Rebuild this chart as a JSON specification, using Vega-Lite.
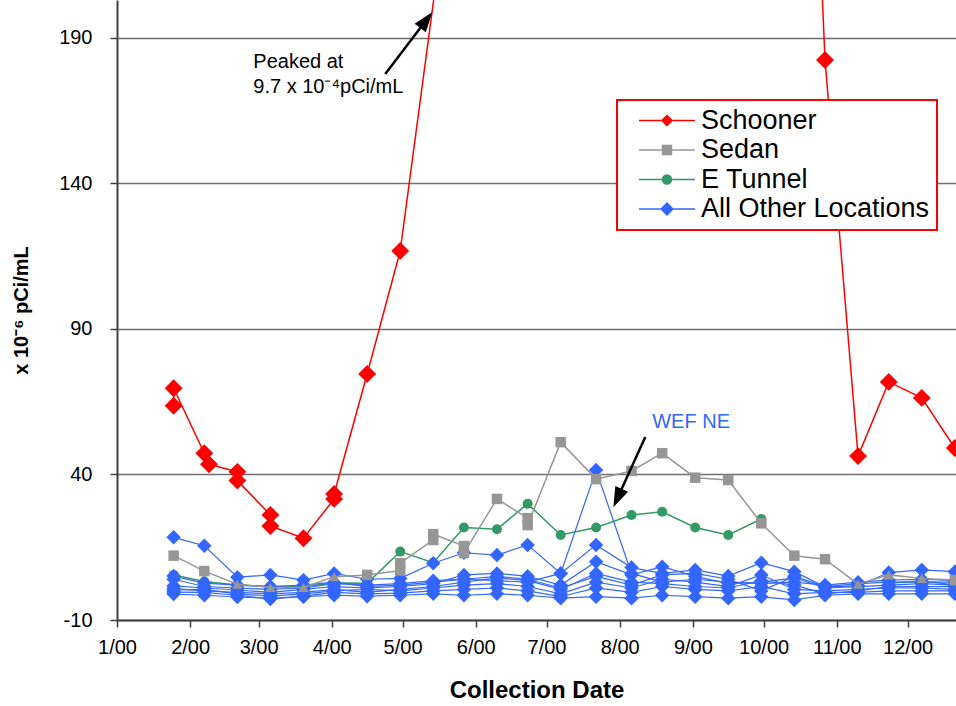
{
  "$schema": "https://vega.github.io/schema/vega-lite/v6.json",
  "width": 839,
  "height": 620,
  "autosize": "none",
  "padding": {"left": 117, "top": 0, "right": 0, "bottom": 86},
  "background": "white",
  "config": {
    "view": {"stroke": null},
    "font": "Liberation Sans"
  },
  "datasets": {
    "main": [
      {"series":"Schooner","loc":"Schooner","date":"2000-01-25","value":63.6},
      {"series":"Schooner","loc":"Schooner","date":"2000-01-25","value":69.6},
      {"series":"Schooner","loc":"Schooner","date":"2000-02-07","value":47.3},
      {"series":"Schooner","loc":"Schooner","date":"2000-02-09","value":43.5},
      {"series":"Schooner","loc":"Schooner","date":"2000-02-21","value":40.9},
      {"series":"Schooner","loc":"Schooner","date":"2000-02-21","value":37.9},
      {"series":"Schooner","loc":"Schooner","date":"2000-03-06","value":26.1},
      {"series":"Schooner","loc":"Schooner","date":"2000-03-06","value":22.3},
      {"series":"Schooner","loc":"Schooner","date":"2000-03-20","value":18.1},
      {"series":"Schooner","loc":"Schooner","date":"2000-04-02","value":31.6},
      {"series":"Schooner","loc":"Schooner","date":"2000-04-02","value":33.3},
      {"series":"Schooner","loc":"Schooner","date":"2000-04-16","value":74.5},
      {"series":"Schooner","loc":"Schooner","date":"2000-04-30","value":116.8},
      {"series":"Schooner","loc":"Schooner","date":"2000-05-27","value":281},
      {"series":"Schooner","loc":"Schooner","date":"2000-06-10","value":970},
      {"series":"Schooner","loc":"Schooner","date":"2000-06-23","value":650},
      {"series":"Schooner","loc":"Schooner","date":"2000-07-07","value":540},
      {"series":"Schooner","loc":"Schooner","date":"2000-07-22","value":480},
      {"series":"Schooner","loc":"Schooner","date":"2000-08-06","value":600},
      {"series":"Schooner","loc":"Schooner","date":"2000-08-19","value":520},
      {"series":"Schooner","loc":"Schooner","date":"2000-09-02","value":450},
      {"series":"Schooner","loc":"Schooner","date":"2000-09-16","value":500},
      {"series":"Schooner","loc":"Schooner","date":"2000-09-30","value":470},
      {"series":"Schooner","loc":"Schooner","date":"2000-10-14","value":426},
      {"series":"Schooner","loc":"Schooner","date":"2000-10-27","value":182.4},
      {"series":"Schooner","loc":"Schooner","date":"2000-11-10","value":46.3},
      {"series":"Schooner","loc":"Schooner","date":"2000-11-23","value":71.8},
      {"series":"Schooner","loc":"Schooner","date":"2000-12-07","value":66.3},
      {"series":"Schooner","loc":"Schooner","date":"2000-12-21","value":49.1},

      {"series":"Sedan","loc":"Sedan","date":"2000-01-25","value":12.1,"nd":false},
      {"series":"Sedan","loc":"Sedan","date":"2000-02-07","value":6.8,"nd":false},
      {"series":"Sedan","loc":"Sedan","date":"2000-02-21","value":2.3,"nd":true},
      {"series":"Sedan","loc":"Sedan","date":"2000-03-06","value":1.2,"nd":true},
      {"series":"Sedan","loc":"Sedan","date":"2000-03-20","value":1.2,"nd":true},
      {"series":"Sedan","loc":"Sedan","date":"2000-04-02","value":4.9,"nd":true},
      {"series":"Sedan","loc":"Sedan","date":"2000-04-16","value":5.5,"nd":false},
      {"series":"Sedan","loc":"Sedan","date":"2000-04-30","value":7.0,"nd":false},
      {"series":"Sedan","loc":"Sedan","date":"2000-04-30","value":9.5,"nd":false},
      {"series":"Sedan","loc":"Sedan","date":"2000-05-14","value":17.5,"nd":false},
      {"series":"Sedan","loc":"Sedan","date":"2000-05-14","value":19.5,"nd":false},
      {"series":"Sedan","loc":"Sedan","date":"2000-05-27","value":15.4,"nd":false},
      {"series":"Sedan","loc":"Sedan","date":"2000-05-27","value":13.0,"nd":false},
      {"series":"Sedan","loc":"Sedan","date":"2000-06-10","value":31.6,"nd":false},
      {"series":"Sedan","loc":"Sedan","date":"2000-06-23","value":25.0,"nd":false},
      {"series":"Sedan","loc":"Sedan","date":"2000-06-23","value":22.6,"nd":false},
      {"series":"Sedan","loc":"Sedan","date":"2000-07-07","value":51.1,"nd":false},
      {"series":"Sedan","loc":"Sedan","date":"2000-07-22","value":38.4,"nd":false},
      {"series":"Sedan","loc":"Sedan","date":"2000-08-06","value":41.2,"nd":false},
      {"series":"Sedan","loc":"Sedan","date":"2000-08-19","value":47.3,"nd":false},
      {"series":"Sedan","loc":"Sedan","date":"2000-09-02","value":38.9,"nd":false},
      {"series":"Sedan","loc":"Sedan","date":"2000-09-16","value":38.1,"nd":false},
      {"series":"Sedan","loc":"Sedan","date":"2000-09-30","value":23.2,"nd":false},
      {"series":"Sedan","loc":"Sedan","date":"2000-10-14","value":12.1,"nd":false},
      {"series":"Sedan","loc":"Sedan","date":"2000-10-27","value":10.9,"nd":false},
      {"series":"Sedan","loc":"Sedan","date":"2000-11-10","value":2.3,"nd":true},
      {"series":"Sedan","loc":"Sedan","date":"2000-11-23","value":5.5,"nd":true},
      {"series":"Sedan","loc":"Sedan","date":"2000-12-07","value":4.3,"nd":true},
      {"series":"Sedan","loc":"Sedan","date":"2000-12-21","value":3.7,"nd":false},

      {"series":"E Tunnel","loc":"E Tunnel","date":"2000-01-25","value":5.5},
      {"series":"E Tunnel","loc":"E Tunnel","date":"2000-02-07","value":3.2},
      {"series":"E Tunnel","loc":"E Tunnel","date":"2000-02-21","value":2.0},
      {"series":"E Tunnel","loc":"E Tunnel","date":"2000-03-06","value":1.5},
      {"series":"E Tunnel","loc":"E Tunnel","date":"2000-03-20","value":1.5},
      {"series":"E Tunnel","loc":"E Tunnel","date":"2000-04-02","value":2.7},
      {"series":"E Tunnel","loc":"E Tunnel","date":"2000-04-16","value":2.6},
      {"series":"E Tunnel","loc":"E Tunnel","date":"2000-04-30","value":13.5},
      {"series":"E Tunnel","loc":"E Tunnel","date":"2000-05-14","value":9.7},
      {"series":"E Tunnel","loc":"E Tunnel","date":"2000-05-27","value":21.8},
      {"series":"E Tunnel","loc":"E Tunnel","date":"2000-06-10","value":21.2},
      {"series":"E Tunnel","loc":"E Tunnel","date":"2000-06-23","value":29.9},
      {"series":"E Tunnel","loc":"E Tunnel","date":"2000-07-07","value":19.2},
      {"series":"E Tunnel","loc":"E Tunnel","date":"2000-07-22","value":21.8},
      {"series":"E Tunnel","loc":"E Tunnel","date":"2000-08-06","value":26.1},
      {"series":"E Tunnel","loc":"E Tunnel","date":"2000-08-19","value":27.2},
      {"series":"E Tunnel","loc":"E Tunnel","date":"2000-09-02","value":21.8},
      {"series":"E Tunnel","loc":"E Tunnel","date":"2000-09-16","value":19.2},
      {"series":"E Tunnel","loc":"E Tunnel","date":"2000-09-30","value":24.7},
      {"series":"E Tunnel","loc":"E Tunnel","date":"2000-10-14","value":null},
      {"series":"E Tunnel","loc":"E Tunnel","date":"2000-10-27","value":null},
      {"series":"E Tunnel","loc":"E Tunnel","date":"2000-11-10","value":null},
      {"series":"E Tunnel","loc":"E Tunnel","date":"2000-11-23","value":2.6},
      {"series":"E Tunnel","loc":"E Tunnel","date":"2000-12-07","value":3.5},
      {"series":"E Tunnel","loc":"E Tunnel","date":"2000-12-21","value":2.0},

      {"series":"All Other Locations","loc":"WEF NE","date":"2000-01-25","value":5.1},
      {"series":"All Other Locations","loc":"WEF NE","date":"2000-02-07","value":2.7},
      {"series":"All Other Locations","loc":"WEF NE","date":"2000-02-21","value":2.0},
      {"series":"All Other Locations","loc":"WEF NE","date":"2000-03-06","value":1.5},
      {"series":"All Other Locations","loc":"WEF NE","date":"2000-03-20","value":2.0},
      {"series":"All Other Locations","loc":"WEF NE","date":"2000-04-02","value":3.0},
      {"series":"All Other Locations","loc":"WEF NE","date":"2000-04-16","value":1.5},
      {"series":"All Other Locations","loc":"WEF NE","date":"2000-04-30","value":2.0},
      {"series":"All Other Locations","loc":"WEF NE","date":"2000-05-14","value":3.0},
      {"series":"All Other Locations","loc":"WEF NE","date":"2000-05-27","value":4.0},
      {"series":"All Other Locations","loc":"WEF NE","date":"2000-06-10","value":3.5},
      {"series":"All Other Locations","loc":"WEF NE","date":"2000-06-23","value":3.0},
      {"series":"All Other Locations","loc":"WEF NE","date":"2000-07-07","value":6.0},
      {"series":"All Other Locations","loc":"WEF NE","date":"2000-07-22","value":41.5},
      {"series":"All Other Locations","loc":"WEF NE","date":"2000-08-06","value":6.0},
      {"series":"All Other Locations","loc":"WEF NE","date":"2000-08-19","value":3.0},
      {"series":"All Other Locations","loc":"WEF NE","date":"2000-09-02","value":4.0},
      {"series":"All Other Locations","loc":"WEF NE","date":"2000-09-16","value":3.0},
      {"series":"All Other Locations","loc":"WEF NE","date":"2000-09-30","value":2.5},
      {"series":"All Other Locations","loc":"WEF NE","date":"2000-10-14","value":3.0},
      {"series":"All Other Locations","loc":"WEF NE","date":"2000-10-27","value":2.0},
      {"series":"All Other Locations","loc":"WEF NE","date":"2000-11-10","value":3.0},
      {"series":"All Other Locations","loc":"WEF NE","date":"2000-11-23","value":3.7},
      {"series":"All Other Locations","loc":"WEF NE","date":"2000-12-07","value":4.0},
      {"series":"All Other Locations","loc":"WEF NE","date":"2000-12-21","value":3.5},

      {"series":"All Other Locations","loc":"L1","date":"2000-01-25","value":18.4},
      {"series":"All Other Locations","loc":"L1","date":"2000-02-07","value":15.5},
      {"series":"All Other Locations","loc":"L1","date":"2000-02-21","value":4.7},
      {"series":"All Other Locations","loc":"L1","date":"2000-03-06","value":5.5},
      {"series":"All Other Locations","loc":"L1","date":"2000-03-20","value":3.7},
      {"series":"All Other Locations","loc":"L1","date":"2000-04-02","value":6.0},
      {"series":"All Other Locations","loc":"L1","date":"2000-04-16","value":4.0},
      {"series":"All Other Locations","loc":"L1","date":"2000-04-30","value":4.3},
      {"series":"All Other Locations","loc":"L1","date":"2000-05-14","value":9.5},
      {"series":"All Other Locations","loc":"L1","date":"2000-05-27","value":13.1},
      {"series":"All Other Locations","loc":"L1","date":"2000-06-10","value":12.3},
      {"series":"All Other Locations","loc":"L1","date":"2000-06-23","value":15.8},
      {"series":"All Other Locations","loc":"L1","date":"2000-07-07","value":6.0},
      {"series":"All Other Locations","loc":"L1","date":"2000-07-22","value":15.8},
      {"series":"All Other Locations","loc":"L1","date":"2000-08-06","value":8.0},
      {"series":"All Other Locations","loc":"L1","date":"2000-08-19","value":6.0},
      {"series":"All Other Locations","loc":"L1","date":"2000-09-02","value":7.2},
      {"series":"All Other Locations","loc":"L1","date":"2000-09-16","value":5.1},
      {"series":"All Other Locations","loc":"L1","date":"2000-09-30","value":9.7},
      {"series":"All Other Locations","loc":"L1","date":"2000-10-14","value":6.6},
      {"series":"All Other Locations","loc":"L1","date":"2000-10-27","value":1.4},
      {"series":"All Other Locations","loc":"L1","date":"2000-11-10","value":1.7},
      {"series":"All Other Locations","loc":"L1","date":"2000-11-23","value":6.3},
      {"series":"All Other Locations","loc":"L1","date":"2000-12-07","value":7.2},
      {"series":"All Other Locations","loc":"L1","date":"2000-12-21","value":6.6},

      {"series":"All Other Locations","loc":"L3","date":"2000-01-25","value":1.7},
      {"series":"All Other Locations","loc":"L3","date":"2000-02-07","value":1.0},
      {"series":"All Other Locations","loc":"L3","date":"2000-02-21","value":0.3},
      {"series":"All Other Locations","loc":"L3","date":"2000-03-06","value":-0.5},
      {"series":"All Other Locations","loc":"L3","date":"2000-03-20","value":0.5},
      {"series":"All Other Locations","loc":"L3","date":"2000-04-02","value":1.5},
      {"series":"All Other Locations","loc":"L3","date":"2000-04-16","value":1.0},
      {"series":"All Other Locations","loc":"L3","date":"2000-04-30","value":1.5},
      {"series":"All Other Locations","loc":"L3","date":"2000-05-14","value":2.5},
      {"series":"All Other Locations","loc":"L3","date":"2000-05-27","value":5.5},
      {"series":"All Other Locations","loc":"L3","date":"2000-06-10","value":6.0},
      {"series":"All Other Locations","loc":"L3","date":"2000-06-23","value":5.0},
      {"series":"All Other Locations","loc":"L3","date":"2000-07-07","value":2.0},
      {"series":"All Other Locations","loc":"L3","date":"2000-07-22","value":10.0},
      {"series":"All Other Locations","loc":"L3","date":"2000-08-06","value":5.5},
      {"series":"All Other Locations","loc":"L3","date":"2000-08-19","value":8.3},
      {"series":"All Other Locations","loc":"L3","date":"2000-09-02","value":5.0},
      {"series":"All Other Locations","loc":"L3","date":"2000-09-16","value":2.5},
      {"series":"All Other Locations","loc":"L3","date":"2000-09-30","value":3.0},
      {"series":"All Other Locations","loc":"L3","date":"2000-10-14","value":4.5},
      {"series":"All Other Locations","loc":"L3","date":"2000-10-27","value":1.0},
      {"series":"All Other Locations","loc":"L3","date":"2000-11-10","value":1.5},
      {"series":"All Other Locations","loc":"L3","date":"2000-11-23","value":2.0},
      {"series":"All Other Locations","loc":"L3","date":"2000-12-07","value":2.5},
      {"series":"All Other Locations","loc":"L3","date":"2000-12-21","value":2.0},

      {"series":"All Other Locations","loc":"L4","date":"2000-01-25","value":0.3},
      {"series":"All Other Locations","loc":"L4","date":"2000-02-07","value":0.5},
      {"series":"All Other Locations","loc":"L4","date":"2000-02-21","value":-1.0},
      {"series":"All Other Locations","loc":"L4","date":"2000-03-06","value":-1.8},
      {"series":"All Other Locations","loc":"L4","date":"2000-03-20","value":-1.0},
      {"series":"All Other Locations","loc":"L4","date":"2000-04-02","value":0.0},
      {"series":"All Other Locations","loc":"L4","date":"2000-04-16","value":0.5},
      {"series":"All Other Locations","loc":"L4","date":"2000-04-30","value":0.0},
      {"series":"All Other Locations","loc":"L4","date":"2000-05-14","value":1.0},
      {"series":"All Other Locations","loc":"L4","date":"2000-05-27","value":2.0},
      {"series":"All Other Locations","loc":"L4","date":"2000-06-10","value":2.5},
      {"series":"All Other Locations","loc":"L4","date":"2000-06-23","value":1.5},
      {"series":"All Other Locations","loc":"L4","date":"2000-07-07","value":-1.0},
      {"series":"All Other Locations","loc":"L4","date":"2000-07-22","value":3.0},
      {"series":"All Other Locations","loc":"L4","date":"2000-08-06","value":1.0},
      {"series":"All Other Locations","loc":"L4","date":"2000-08-19","value":4.0},
      {"series":"All Other Locations","loc":"L4","date":"2000-09-02","value":3.0},
      {"series":"All Other Locations","loc":"L4","date":"2000-09-16","value":1.5},
      {"series":"All Other Locations","loc":"L4","date":"2000-09-30","value":5.5},
      {"series":"All Other Locations","loc":"L4","date":"2000-10-14","value":0.5},
      {"series":"All Other Locations","loc":"L4","date":"2000-10-27","value":0.0},
      {"series":"All Other Locations","loc":"L4","date":"2000-11-10","value":0.5},
      {"series":"All Other Locations","loc":"L4","date":"2000-11-23","value":1.0},
      {"series":"All Other Locations","loc":"L4","date":"2000-12-07","value":1.0},
      {"series":"All Other Locations","loc":"L4","date":"2000-12-21","value":0.5},

      {"series":"All Other Locations","loc":"L5","date":"2000-01-25","value":-0.4},
      {"series":"All Other Locations","loc":"L5","date":"2000-02-07","value":-0.5},
      {"series":"All Other Locations","loc":"L5","date":"2000-02-21","value":-1.5},
      {"series":"All Other Locations","loc":"L5","date":"2000-03-06","value":-2.8},
      {"series":"All Other Locations","loc":"L5","date":"2000-03-20","value":-1.8},
      {"series":"All Other Locations","loc":"L5","date":"2000-04-02","value":-0.5},
      {"series":"All Other Locations","loc":"L5","date":"2000-04-16","value":-1.0},
      {"series":"All Other Locations","loc":"L5","date":"2000-04-30","value":-0.8},
      {"series":"All Other Locations","loc":"L5","date":"2000-05-14","value":0.0},
      {"series":"All Other Locations","loc":"L5","date":"2000-05-27","value":0.5},
      {"series":"All Other Locations","loc":"L5","date":"2000-06-10","value":1.0},
      {"series":"All Other Locations","loc":"L5","date":"2000-06-23","value":0.0},
      {"series":"All Other Locations","loc":"L5","date":"2000-07-07","value":-2.0},
      {"series":"All Other Locations","loc":"L5","date":"2000-07-22","value":1.0},
      {"series":"All Other Locations","loc":"L5","date":"2000-08-06","value":-0.5},
      {"series":"All Other Locations","loc":"L5","date":"2000-08-19","value":1.5},
      {"series":"All Other Locations","loc":"L5","date":"2000-09-02","value":0.5},
      {"series":"All Other Locations","loc":"L5","date":"2000-09-16","value":0.0},
      {"series":"All Other Locations","loc":"L5","date":"2000-09-30","value":1.5},
      {"series":"All Other Locations","loc":"L5","date":"2000-10-14","value":-1.0},
      {"series":"All Other Locations","loc":"L5","date":"2000-10-27","value":-0.5},
      {"series":"All Other Locations","loc":"L5","date":"2000-11-10","value":-0.5},
      {"series":"All Other Locations","loc":"L5","date":"2000-11-23","value":0.0},
      {"series":"All Other Locations","loc":"L5","date":"2000-12-07","value":0.0},
      {"series":"All Other Locations","loc":"L5","date":"2000-12-21","value":0.0},

      {"series":"All Other Locations","loc":"L6","date":"2000-01-25","value":-1.1},
      {"series":"All Other Locations","loc":"L6","date":"2000-02-07","value":-1.5},
      {"series":"All Other Locations","loc":"L6","date":"2000-02-21","value":-2.1},
      {"series":"All Other Locations","loc":"L6","date":"2000-03-06","value":-2.5},
      {"series":"All Other Locations","loc":"L6","date":"2000-03-20","value":-2.0},
      {"series":"All Other Locations","loc":"L6","date":"2000-04-02","value":-1.5},
      {"series":"All Other Locations","loc":"L6","date":"2000-04-16","value":-1.8},
      {"series":"All Other Locations","loc":"L6","date":"2000-04-30","value":-1.5},
      {"series":"All Other Locations","loc":"L6","date":"2000-05-14","value":-1.0},
      {"series":"All Other Locations","loc":"L6","date":"2000-05-27","value":-1.5},
      {"series":"All Other Locations","loc":"L6","date":"2000-06-10","value":-1.0},
      {"series":"All Other Locations","loc":"L6","date":"2000-06-23","value":-1.5},
      {"series":"All Other Locations","loc":"L6","date":"2000-07-07","value":-2.5},
      {"series":"All Other Locations","loc":"L6","date":"2000-07-22","value":-2.0},
      {"series":"All Other Locations","loc":"L6","date":"2000-08-06","value":-2.5},
      {"series":"All Other Locations","loc":"L6","date":"2000-08-19","value":-1.5},
      {"series":"All Other Locations","loc":"L6","date":"2000-09-02","value":-2.0},
      {"series":"All Other Locations","loc":"L6","date":"2000-09-16","value":-2.5},
      {"series":"All Other Locations","loc":"L6","date":"2000-09-30","value":-2.0},
      {"series":"All Other Locations","loc":"L6","date":"2000-10-14","value":-3.1},
      {"series":"All Other Locations","loc":"L6","date":"2000-10-27","value":-1.5},
      {"series":"All Other Locations","loc":"L6","date":"2000-11-10","value":-1.0},
      {"series":"All Other Locations","loc":"L6","date":"2000-11-23","value":-1.0},
      {"series":"All Other Locations","loc":"L6","date":"2000-12-07","value":-1.0},
      {"series":"All Other Locations","loc":"L6","date":"2000-12-21","value":-1.0},

      {"series":"All Other Locations","loc":"L7","date":"2000-01-25","value":0.8},
      {"series":"All Other Locations","loc":"L7","date":"2000-02-07","value":0.0},
      {"series":"All Other Locations","loc":"L7","date":"2000-02-21","value":-0.5},
      {"series":"All Other Locations","loc":"L7","date":"2000-03-06","value":-1.0},
      {"series":"All Other Locations","loc":"L7","date":"2000-03-20","value":-0.5},
      {"series":"All Other Locations","loc":"L7","date":"2000-04-02","value":0.5},
      {"series":"All Other Locations","loc":"L7","date":"2000-04-16","value":-0.5},
      {"series":"All Other Locations","loc":"L7","date":"2000-04-30","value":0.5},
      {"series":"All Other Locations","loc":"L7","date":"2000-05-14","value":1.5},
      {"series":"All Other Locations","loc":"L7","date":"2000-05-27","value":3.0},
      {"series":"All Other Locations","loc":"L7","date":"2000-06-10","value":4.5},
      {"series":"All Other Locations","loc":"L7","date":"2000-06-23","value":3.5},
      {"series":"All Other Locations","loc":"L7","date":"2000-07-07","value":0.5},
      {"series":"All Other Locations","loc":"L7","date":"2000-07-22","value":6.0},
      {"series":"All Other Locations","loc":"L7","date":"2000-08-06","value":3.0},
      {"series":"All Other Locations","loc":"L7","date":"2000-08-19","value":2.5},
      {"series":"All Other Locations","loc":"L7","date":"2000-09-02","value":1.5},
      {"series":"All Other Locations","loc":"L7","date":"2000-09-16","value":1.0},
      {"series":"All Other Locations","loc":"L7","date":"2000-09-30","value":3.5},
      {"series":"All Other Locations","loc":"L7","date":"2000-10-14","value":2.0},
      {"series":"All Other Locations","loc":"L7","date":"2000-10-27","value":-1.0},
      {"series":"All Other Locations","loc":"L7","date":"2000-11-10","value":0.0},
      {"series":"All Other Locations","loc":"L7","date":"2000-11-23","value":1.5},
      {"series":"All Other Locations","loc":"L7","date":"2000-12-07","value":1.5},
      {"series":"All Other Locations","loc":"L7","date":"2000-12-21","value":1.5},

      {"series":"All Other Locations","loc":"L8","date":"2000-01-25","value":4.0},
      {"series":"All Other Locations","loc":"L8","date":"2000-02-07","value":1.5},
      {"series":"All Other Locations","loc":"L8","date":"2000-02-21","value":1.0},
      {"series":"All Other Locations","loc":"L8","date":"2000-03-06","value":0.5},
      {"series":"All Other Locations","loc":"L8","date":"2000-03-20","value":1.0},
      {"series":"All Other Locations","loc":"L8","date":"2000-04-02","value":2.5},
      {"series":"All Other Locations","loc":"L8","date":"2000-04-16","value":2.0},
      {"series":"All Other Locations","loc":"L8","date":"2000-04-30","value":2.5},
      {"series":"All Other Locations","loc":"L8","date":"2000-05-14","value":3.5},
      {"series":"All Other Locations","loc":"L8","date":"2000-05-27","value":4.0},
      {"series":"All Other Locations","loc":"L8","date":"2000-06-10","value":5.0},
      {"series":"All Other Locations","loc":"L8","date":"2000-06-23","value":4.0},
      {"series":"All Other Locations","loc":"L8","date":"2000-07-07","value":1.0},
      {"series":"All Other Locations","loc":"L8","date":"2000-07-22","value":5.0},
      {"series":"All Other Locations","loc":"L8","date":"2000-08-06","value":2.0},
      {"series":"All Other Locations","loc":"L8","date":"2000-08-19","value":5.5},
      {"series":"All Other Locations","loc":"L8","date":"2000-09-02","value":6.0},
      {"series":"All Other Locations","loc":"L8","date":"2000-09-16","value":4.0},
      {"series":"All Other Locations","loc":"L8","date":"2000-09-30","value":0.0},
      {"series":"All Other Locations","loc":"L8","date":"2000-10-14","value":5.0},
      {"series":"All Other Locations","loc":"L8","date":"2000-10-27","value":1.5},
      {"series":"All Other Locations","loc":"L8","date":"2000-11-10","value":2.5},
      {"series":"All Other Locations","loc":"L8","date":"2000-11-23","value":3.0},
      {"series":"All Other Locations","loc":"L8","date":"2000-12-07","value":3.0},
      {"series":"All Other Locations","loc":"L8","date":"2000-12-21","value":3.0}
    ],
    "notes": [
      {"date":"2000-02-27T18:00:00Z","value":179.6,"label":"Peaked at"},
      {"date":"2000-02-27T18:00:00Z","value":171.0,"label":"9.7 x 10⁻⁴pCi/mL"}
    ],
    "wef": [
      {"date":"2000-08-14T19:00:00Z","value":55.9,"label":"WEF NE"}
    ],
    "arrows": [
      {"date":"2000-04-23T16:00:00Z","value":177.6,"date2":"2000-05-11T01:30:00Z","value2":196.1},
      {"date":"2000-08-11T20:24:00Z","value":52.9,"date2":"2000-07-31T02:00:00Z","value2":31.9}
    ],
    "head1": [{"date":"2000-05-11T01:30:00Z","value":196.1}],
    "head2": [{"date":"2000-07-31T02:00:00Z","value":31.9}]
  },
  "encoding": {
    "x": {
      "field": "date", "type": "temporal", "title": "Collection Date",
      "scale": {"type": "utc", "domain": [{"year":2000,"month":1,"date":1,"utc":true},{"year":2000,"month":12,"date":21,"hours":12,"utc":true}]},
      "axis": {
        "format": "%-m/%y",
        "values": [
          {"year":2000,"month":1,"date":1,"utc":true},{"year":2000,"month":2,"date":1,"utc":true},{"year":2000,"month":3,"date":1,"utc":true},
          {"year":2000,"month":4,"date":1,"utc":true},{"year":2000,"month":5,"date":1,"utc":true},{"year":2000,"month":6,"date":1,"utc":true},
          {"year":2000,"month":7,"date":1,"utc":true},{"year":2000,"month":8,"date":1,"utc":true},{"year":2000,"month":9,"date":1,"utc":true},
          {"year":2000,"month":10,"date":1,"utc":true},{"year":2000,"month":11,"date":1,"utc":true},{"year":2000,"month":12,"date":1,"utc":true}
        ],
        "grid": false, "domainColor": "#404040", "domainWidth": 2, "tickColor": "#404040", "tickWidth": 1.5, "tickSize": 7,
        "labelFontSize": 20, "labelColor": "#000000", "labelPadding": 10, "labelFont": "Liberation Sans", "labelOverlap": false, "labelFlush": false,
        "titleFontSize": 24, "titleFontWeight": "bold", "titleColor": "#000000", "titlePadding": 21, "titleFont": "Liberation Sans"
      }
    },
    "y": {
      "field": "value", "type": "quantitative", "title": "x 10⁻⁶ pCi/mL",
      "scale": {"domain": [-10, 203], "nice": false, "zero": false},
      "axis": {
        "values": [-10, 40, 90, 140, 190],
        "labelExpr": "datum.value < 0 ? '-' + abs(datum.value) : datum.label",
        "grid": true, "gridColor": "#707070", "gridWidth": 1.5,
        "domainColor": "#404040", "domainWidth": 2, "tickColor": "#404040", "tickWidth": 1.5, "tickSize": 7,
        "labelFontSize": 20, "labelColor": "#000000", "labelPadding": 18, "labelFont": "Liberation Sans",
        "titleFontSize": 20, "titleFontWeight": "bold", "titleColor": "#000000", "titlePadding": 27, "titleFont": "Liberation Sans"
      }
    }
  },
  "layer": [
    {
      "data": {"values": [{}]},
      "mark": {"type": "rule", "color": "#707070", "strokeWidth": 1.5},
      "encoding": {
        "y": {"datum": 200},
        "x": {"datum": {"year":2000,"month":1,"date":1,"utc":true}},
        "x2": {"datum": {"year":2000,"month":12,"date":21,"hours":12,"utc":true}}
      }
    },
    {
      "data": {"name": "main"},
      "transform": [{"filter": "datum.series === 'E Tunnel'"}],
      "mark": {"type": "line", "strokeWidth": 1.5, "invalid": "break-paths-filter-domains"},
      "encoding": {
        "color": {
          "field": "series", "type": "nominal",
          "scale": {"domain": ["Schooner", "Sedan", "E Tunnel", "All Other Locations"], "range": ["#FF0000", "#969696", "#339966", "#3366FF"]},
          "legend": {
            "orient": "none", "legendX": 500, "legendY": 100, "title": null, "direction": "vertical",
            "strokeColor": "#FF0000", "fillColor": "#FFFFFF", "padding": 7, "symbolOffset": 14,
            "labelFontSize": 27, "labelFont": "Liberation Sans", "labelColor": "#000000", "labelOffset": 5, "labelLimit": 400,
            "rowPadding": 1.5, "clipHeight": 27, "symbolSize": 3136, "symbolStrokeWidth": 1.5,
            "encode": {
              "legend": {"update": {"strokeWidth": {"value": 2}}},
              "symbols": {"update": {
                "shape": {"signal": "datum.value==='Schooner'?'M-1,0H1M0,-0.18L0.18,0L0,0.18L-0.18,0Z':datum.value==='Sedan'?'M-1,0H1M-0.16,-0.16H0.16V0.16H-0.16Z':datum.value==='E Tunnel'?'M-1,0H1M-0.16,0A0.16,0.16,0,1,0,0.16,0A0.16,0.16,0,1,0,-0.16,0Z':'M-1,0H1M0,-0.21L0.21,0L0,0.21L-0.21,0Z'"},
                "fill": {"signal": "datum.value==='Schooner'?'#FF6600':datum.value==='Sedan'?'#969696':datum.value==='E Tunnel'?'#339966':'#3366FF'"},
                "stroke": {"signal": "datum.value==='Schooner'?'#FF0000':datum.value==='Sedan'?'#AAAAAA':datum.value==='E Tunnel'?'#5FAA84':'#3366FF'"},
                "strokeWidth": {"value": 1.5},
                "opacity": {"value": 1},
                "size": {"value": 3136}
              }}
            }
          }
        }
      }
    },
    {
      "data": {"name": "main"},
      "transform": [{"filter": "datum.series === 'E Tunnel'"}],
      "mark": {"type": "point", "shape": "circle", "filled": true, "opacity": 1, "size": 100},
      "encoding": {
        "color": {"field": "series", "type": "nominal", "scale": {"domain": ["Schooner", "Sedan", "E Tunnel", "All Other Locations"], "range": ["#FF0000", "#969696", "#339966", "#3366FF"]}}
      }
    },
    {
      "data": {"name": "main"},
      "transform": [{"filter": "datum.series === 'All Other Locations'"}],
      "mark": {"type": "line", "strokeWidth": 1.2},
      "encoding": {
        "detail": {"field": "loc", "type": "nominal"},
        "color": {"field": "series", "type": "nominal", "scale": {"domain": ["Schooner", "Sedan", "E Tunnel", "All Other Locations"], "range": ["#FF0000", "#969696", "#339966", "#3366FF"]}}
      }
    },
    {
      "data": {"name": "main"},
      "transform": [{"filter": "datum.series === 'All Other Locations'"}],
      "mark": {"type": "point", "shape": "diamond", "filled": true, "opacity": 1, "size": 210},
      "encoding": {
        "color": {"field": "series", "type": "nominal", "scale": {"domain": ["Schooner", "Sedan", "E Tunnel", "All Other Locations"], "range": ["#FF0000", "#969696", "#339966", "#3366FF"]}}
      }
    },
    {
      "data": {"name": "main"},
      "transform": [{"filter": "datum.series === 'Sedan'"}],
      "mark": {"type": "line", "strokeWidth": 1.5},
      "encoding": {
        "color": {"field": "series", "type": "nominal", "scale": {"domain": ["Schooner", "Sedan", "E Tunnel", "All Other Locations"], "range": ["#FF0000", "#969696", "#339966", "#3366FF"]}}
      }
    },
    {
      "data": {"name": "main"},
      "transform": [{"filter": "datum.series === 'Sedan'"}],
      "mark": {"type": "point", "filled": true, "opacity": 1, "size": 110},
      "encoding": {
        "shape": {"field": "nd", "type": "nominal", "scale": {"domain": [false, true], "range": ["square", "triangle-up"]}, "legend": null},
        "color": {"field": "series", "type": "nominal", "scale": {"domain": ["Schooner", "Sedan", "E Tunnel", "All Other Locations"], "range": ["#FF0000", "#969696", "#339966", "#3366FF"]}}
      }
    },
    {
      "data": {"name": "main"},
      "transform": [{"filter": "datum.series === 'Schooner'"}],
      "mark": {"type": "line", "strokeWidth": 1.5, "clip": true},
      "encoding": {
        "color": {"field": "series", "type": "nominal", "scale": {"domain": ["Schooner", "Sedan", "E Tunnel", "All Other Locations"], "range": ["#FF0000", "#969696", "#339966", "#3366FF"]}}
      }
    },
    {
      "data": {"name": "main"},
      "transform": [{"filter": "datum.series === 'Schooner'"}],
      "mark": {"type": "point", "shape": "diamond", "filled": true, "opacity": 1, "size": 320, "clip": true},
      "encoding": {
        "color": {"field": "series", "type": "nominal", "scale": {"domain": ["Schooner", "Sedan", "E Tunnel", "All Other Locations"], "range": ["#FF0000", "#969696", "#339966", "#3366FF"]}}
      }
    },
    {
      "data": {"name": "notes"},
      "mark": {"type": "text", "align": "left", "baseline": "alphabetic", "fontSize": 20, "font": "Liberation Sans", "color": "#000000"},
      "encoding": {"text": {"field": "label"}}
    },
    {
      "data": {"name": "wef"},
      "mark": {"type": "text", "align": "left", "baseline": "alphabetic", "fontSize": 20, "font": "Liberation Sans", "color": "#3366FF"},
      "encoding": {"text": {"field": "label"}}
    },
    {
      "data": {"name": "arrows"},
      "mark": {"type": "rule", "color": "#000000", "strokeWidth": 2.5},
      "encoding": {
        "x2": {"field": "date2"},
        "y2": {"field": "value2"}
      }
    },
    {
      "data": {"name": "head1"},
      "mark": {"type": "point", "shape": "M0,-1L0.7,1L-0.7,1Z", "filled": true, "opacity": 1, "color": "#000000", "size": 400, "angle": 37.2},
      "encoding": {}
    },
    {
      "data": {"name": "head2"},
      "mark": {"type": "point", "shape": "M0,-1L0.7,1L-0.7,1Z", "filled": true, "opacity": 1, "color": "#000000", "size": 400, "angle": 204.6},
      "encoding": {}
    }
  ]
}
